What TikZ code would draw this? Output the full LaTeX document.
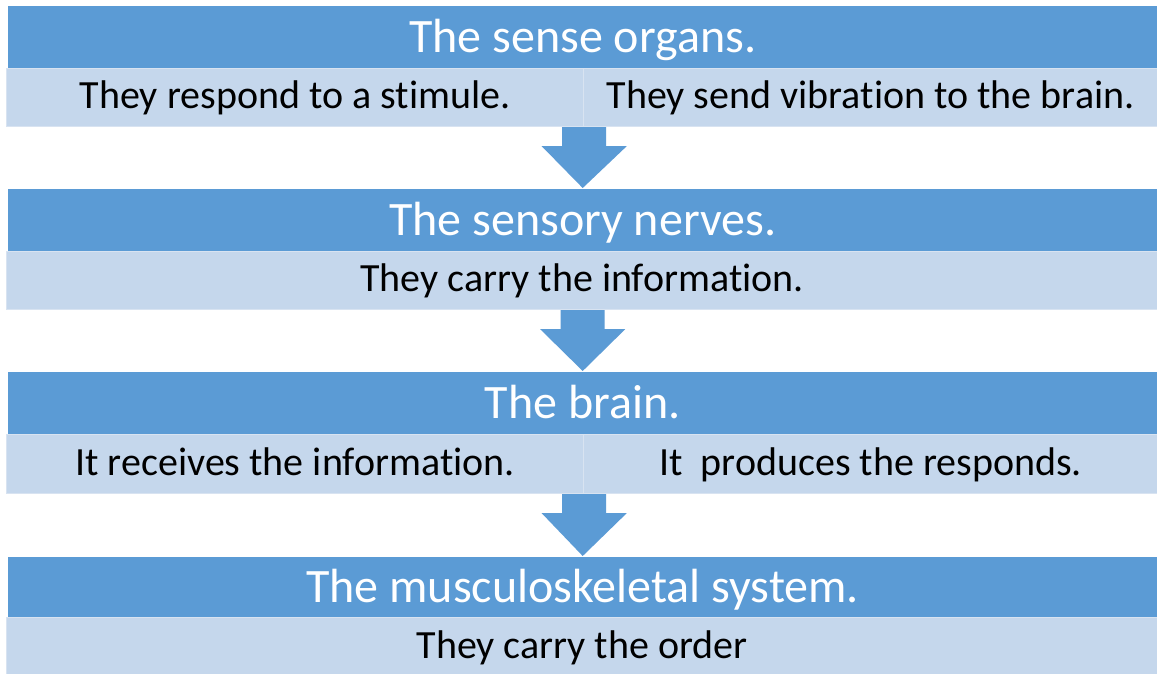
\documentclass[tikz,border=0pt]{standalone}
\usepackage{fontspec}
\setmainfont{Carlito}[Ligatures=CommonOff]
\usetikzlibrary{calc}
\definecolor{hdr}{HTML}{5B9BD5}
\definecolor{lt}{HTML}{C5D7EC}
\definecolor{ltline}{HTML}{D8E3F1}
\newcommand\blockarrow[2]{%
  \fill[hdr] ($(#1)+(-22,0)$) -- ($(#1)+(22,0)$) -- ($(#1)+(22,19)$) -- ($(#1)+(42.5,19)$)
    -- ($(#2)+(0,-1)$) -- ($(#1)+(-42.5,19)$) -- ($(#1)+(-22,19)$) -- cycle;}
\begin{document}
\begin{tikzpicture}[x=1pt,y=-1pt,
  hdrbox/.style={fill=hdr, draw=none, inner sep=0pt, anchor=north west, text=white,
    minimum width=1149pt, minimum height=62pt, text height=30pt, text depth=0pt,
    font=\fontsize{48}{48}\selectfont},
  ltbox/.style={fill=lt, draw=ltline, line width=1.2pt, inner sep=0pt, anchor=north west,
    minimum height=58pt, text height=22pt, text depth=0pt,
    font=\fontsize{40}{40}\selectfont}]
\useasboundingbox (0,0) rectangle (1157,673);
\fill[white] (0,0) rectangle (1157,673);
% group 1
\node[hdrbox] (h1) at (8,6) {The sense organs.};
\node[ltbox, minimum width=577pt] (l1a) at (6,68) {They respond to a stimule.};
\node[ltbox, minimum width=574pt] (l1b) at (583,68) {They send vibration to the brain.};
% group 2
\node[hdrbox] (h2) at (8,189) {The sensory nerves.};
\node[ltbox, minimum width=1151pt] (l2) at (6,251) {They carry the information.};
% group 3
\node[hdrbox] (h3) at (8,372) {The brain.};
\node[ltbox, minimum width=577pt, minimum height=59pt] (l3a) at (6,434) {It receives the information.};
\node[ltbox, minimum width=574pt, minimum height=59pt] (l3b) at (583,434) {It\ \ produces the responds.};
% group 4
\node[hdrbox, minimum height=60pt] (h4) at (8,557) {The musculoskeletal system.};
\node[ltbox, minimum width=1151pt, minimum height=60pt] (l4) at (6,617) {They carry the order};
% arrows
\blockarrow{l1a.south east}{h2.north}
\blockarrow{l2.south -| h1.north}{h3.north}
\blockarrow{l3a.south east}{h4.north}
\end{tikzpicture}
\end{document}
